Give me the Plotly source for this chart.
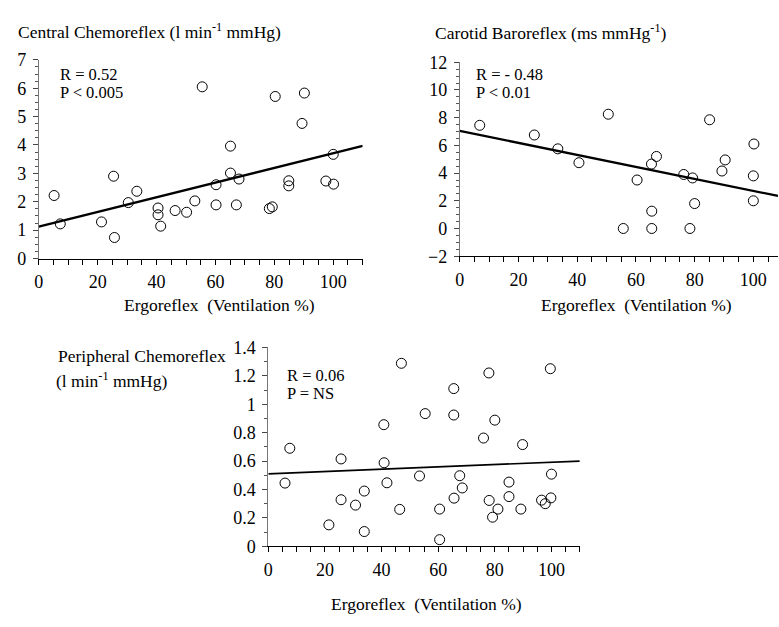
import plotly.graph_objects as go

# ---------------- data ----------------
# Panel 1: Central Chemoreflex vs Ergoreflex
central_x = [5.2, 7.3, 21.3, 25.4, 25.7, 30.4, 33.3, 40.5, 40.5, 41.4, 46.3, 50.2, 53.0,
             55.5, 60.2, 60.2, 65.1, 65.1, 67.1, 68.0, 78.3, 79.3, 80.3, 84.9, 84.9,
             89.4, 90.2, 97.5, 100.0, 100.1]
central_y = [2.22, 1.22, 1.29, 2.90, 0.74, 1.97, 2.37, 1.78, 1.54, 1.14, 1.69, 1.63, 2.03,
             6.05, 2.60, 1.89, 3.96, 3.01, 1.89, 2.80, 1.76, 1.82, 5.71, 2.74, 2.56,
             4.76, 5.83, 2.73, 3.67, 2.62]
central_fit_x = [0, 110]
central_fit_y = [1.12, 3.97]

# Panel 2: Carotid Baroreflex vs Ergoreflex
baro_x = [6.8, 25.4, 33.4, 40.6, 50.6, 55.7, 60.4, 65.3, 65.4, 65.4, 67.0, 76.3, 78.4,
          79.3, 80.0, 85.1, 89.3, 90.4, 100.0, 100.0, 100.2]
baro_y = [7.45, 6.75, 5.75, 4.75, 8.25, 0.0, 3.5, 4.65, 1.25, 0.0, 5.2, 3.9, 0.0,
          3.65, 1.8, 7.85, 4.15, 4.95, 3.8, 2.0, 6.1]
baro_fit_x = [0, 108.4]
baro_fit_y = [7.05, 2.35]

# Panel 3: Peripheral Chemoreflex vs Ergoreflex
peri_x = [5.9, 7.6, 21.4, 25.7, 25.7, 30.8, 33.9, 33.9, 40.8, 40.9, 41.9, 46.4, 47.0,
          53.4, 55.4, 60.5, 60.5, 65.5, 65.5, 65.6, 67.6, 68.5, 76.0, 77.9, 78.0,
          79.2, 80.0, 81.1, 85.0, 85.0, 89.2, 89.8, 96.5, 97.8, 99.6, 99.8, 100.0]
peri_y = [0.445, 0.69, 0.151, 0.615, 0.328, 0.29, 0.389, 0.104, 0.856, 0.588, 0.447, 0.26, 1.288,
          0.495, 0.934, 0.262, 0.047, 1.11, 0.924, 0.339, 0.497, 0.411, 0.762, 1.22, 0.323,
          0.205, 0.888, 0.262, 0.452, 0.35, 0.262, 0.716, 0.325, 0.30, 1.25, 0.341, 0.508]
peri_fit_x = [0, 110]
peri_fit_y = [0.51, 0.60]

# ---------------- figure ----------------
W, H = 779, 627
FONT = "Liberation Serif"

def px(x):
    return x / W

def py(y):
    return 1 - y / H

fig = go.Figure()

marker = dict(symbol="circle-open", size=10, color="black", line=dict(width=1, color="black"))

fig.add_trace(go.Scatter(x=central_x, y=central_y, mode="markers", marker=marker,
                         xaxis="x", yaxis="y", showlegend=False))
fig.add_trace(go.Scatter(x=central_fit_x, y=central_fit_y, mode="lines",
                         line=dict(color="black", width=2.3), xaxis="x", yaxis="y", showlegend=False))
fig.add_trace(go.Scatter(x=baro_x, y=baro_y, mode="markers", marker=marker,
                         xaxis="x2", yaxis="y2", showlegend=False))
fig.add_trace(go.Scatter(x=baro_fit_x, y=baro_fit_y, mode="lines",
                         line=dict(color="black", width=2.3), xaxis="x2", yaxis="y2", showlegend=False))
fig.add_trace(go.Scatter(x=peri_x, y=peri_y, mode="markers", marker=marker,
                         xaxis="x3", yaxis="y3", showlegend=False))
fig.add_trace(go.Scatter(x=peri_fit_x, y=peri_fit_y, mode="lines",
                         line=dict(color="black", width=1.7), xaxis="x3", yaxis="y3", showlegend=False))

tickfont = dict(family=FONT, size=18, color="black")

def xaxis(domain, rng, anchor):
    return dict(domain=domain, range=rng, anchor=anchor, showgrid=False, zeroline=False,
                showline=True, linecolor="black", linewidth=1,
                ticks="outside", ticklen=5, tickwidth=1, tickcolor="black",
                tick0=0, dtick=20, tickfont=tickfont, ticklabelstandoff=2,
                minor=dict(ticks="outside", ticklen=5, dtick=5, tick0=0, tickcolor="black", tickwidth=1))

def yaxis(domain, rng, anchor, dtick, minor_dtick):
    return dict(domain=domain, range=rng, anchor=anchor, showgrid=False, zeroline=False,
                showline=True, linecolor="#777777", linewidth=1,
                ticks="outside", ticklen=5, tickwidth=1, tickcolor="#444444",
                tick0=0, dtick=dtick, tickfont=tickfont, ticklabelstandoff=3,
                minor=dict(ticks="outside", ticklen=3, dtick=minor_dtick, tickcolor="#555555", tickwidth=1))

fig.update_layout(
    width=W, height=H,
    margin=dict(l=0, r=0, t=0, b=0),
    paper_bgcolor="white", plot_bgcolor="white",
    font=dict(family=FONT, color="black"),
    xaxis=xaxis([px(34), px(360)], [0, 110], "y"),
    yaxis=yaxis([py(256.7), py(51.5)], [0, 7], "x", 1, 0.25),
    xaxis2=xaxis([px(457.7), px(778)], [0, 108.4], "y2"),
    yaxis2=yaxis([py(254.3), py(54)], [-2, 12], "x2", 2, 0.5),
    xaxis3=xaxis([px(265), px(578.5)], [0, 110], "y3"),
    yaxis3=yaxis([py(554), py(348.5)], [0, 1.4], "x3", 0.2, 0.1),
)

def note(text, x, y, size=17, anchor="left"):
    fig.add_annotation(text=text, x=px(x), y=py(y), xref="paper", yref="paper",
                       xanchor=anchor, yanchor="middle", showarrow=False,
                       font=dict(family=FONT, size=size, color="black"))

# panel titles
note("Central Chemoreflex (l min<sup>-1</sup> mmHg)", 11, 22, 17.5)
note("Carotid Baroreflex (ms mmHg<sup>-1</sup>)", 431, 23, 17.5)
note("Peripheral Chemoreflex", 51, 357, 17.5)
note("(l min<sup>-1</sup> mmHg)", 49, 382, 17.5)

# statistics
note("R = 0.52", 53, 67, 16.5)
note("P &lt; 0.005", 53, 85, 16.5)
note("R = - 0.48", 472, 67, 16.5)
note("P &lt; 0.01", 472, 85, 16.5)
note("R = 0.06", 282, 378, 16.5)
note("P = NS", 282, 396, 16.5)

# x-axis titles
xt = "Ergoreflex\u00a0\u00a0(Ventilation %)"
note(xt, 118, 305, 17.5)
note(xt, 537, 305, 17.5)
note(xt, 326, 614, 17.5)

fig.write_html(
    "out.html",
    config={"displayModeBar": False},
    post_script="document.body.style.margin='0';document.body.style.overflow='hidden';",
)
